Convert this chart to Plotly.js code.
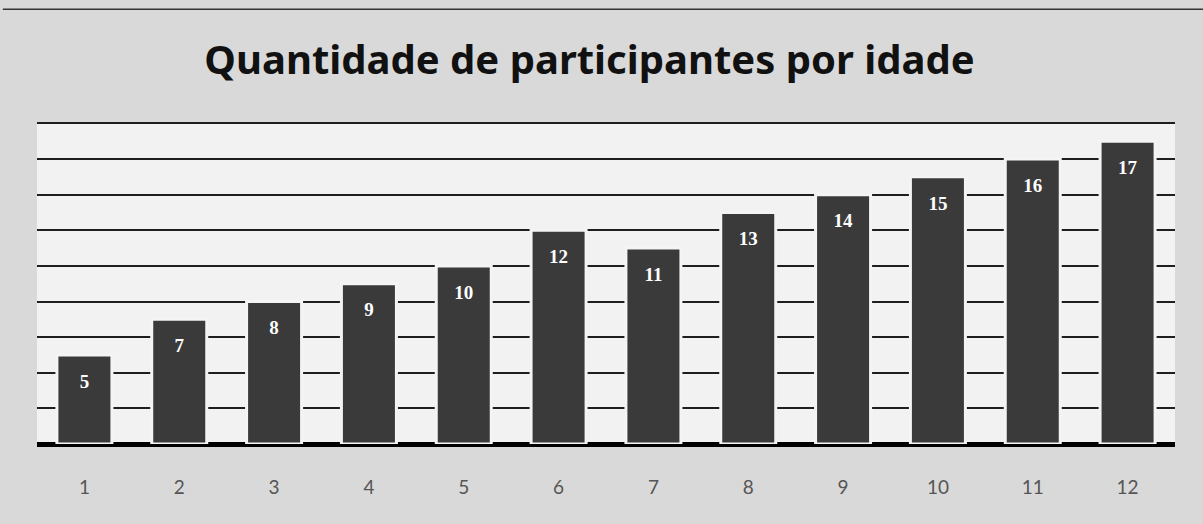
<!DOCTYPE html>
<html>
<head>
<meta charset="utf-8">
<script src="https://cdn.plot.ly/plotly-3.0.1.min.js"></script>
<style>html,body{margin:0;padding:0;background:#dcdcdc;}#chart{width:1203px;height:524px;}</style>
</head>
<body>
<div id="chart"></div>
<script>
const ages = ["1","2","3","4","5","6","7","8","9","10","11","12"];
const participants = [5, 7, 8, 9, 10, 12, 11, 13, 14, 15, 16, 17];
const chartTitle = "Quantidade de participantes por idade";

const bars = {
  type: "bar",
  x: ages,
  y: participants,
  marker: {color: "#3a3a3a", line: {color: "#f4f4f4", width: 3}},
  hoverinfo: "skip",
  showlegend: false
};
const labels = {
  type: "scatter",
  mode: "markers+text",
  x: ages,
  y: participants,
  text: participants.map(String),
  textposition: "bottom center",
  textfont: {family: "Liberation Serif", size: 19, color: "#ffffff", weight: "bold"},
  marker: {size: 28, color: "rgba(0,0,0,0)"},
  hoverinfo: "skip",
  showlegend: false,
  cliponaxis: false
};

const layout = {
  width: 1203, height: 524,
  margin: {l: 37, r: 28, t: 122, b: 80},
  paper_bgcolor: "#d9d9d9",
  plot_bgcolor: "#f2f2f2",
  bargap: 0.42,
  title: {
    text: chartTitle,
    font: {family: "Noto Sans", size: 40, color: "#111111", weight: "bold"},
    x: 0.49, xanchor: "center",
    y: 0.885, yref: "container", yanchor: "middle"
  },
  xaxis: {
    type: "category",
    range: [-0.5, 11.5],
    showgrid: false,
    showline: false,
    ticks: "",
    ticklabelstandoff: 30,
    tickfont: {family: "Lato", size: 19, color: "#555555"}
  },
  yaxis: {
    range: [0, 18.08],
    dtick: 2,
    showticklabels: false,
    ticks: "",
    showgrid: true,
    gridcolor: "#1e1e1e",
    gridwidth: 2,
    zeroline: true,
    zerolinecolor: "#000000",
    zerolinewidth: 5,
    showline: false
  },
  shapes: [
    {type: "line", xref: "paper", yref: "paper", x0: -0.03, x1: 1.03, y0: 1.35, y1: 1.35,
     line: {color: "#333333", width: 1.5}}
  ]
};

Plotly.newPlot("chart", [bars, labels], layout, {displayModeBar: false, staticPlot: true});
</script>
</body>
</html>
